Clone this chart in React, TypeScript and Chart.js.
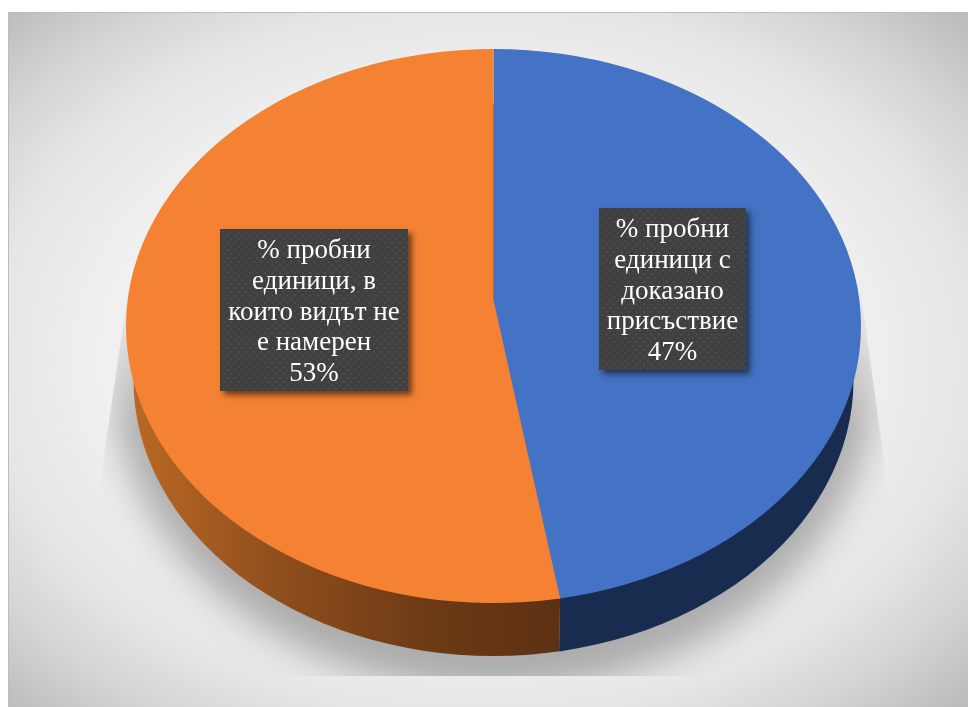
import React, { useEffect, useRef } from "react";
import { Chart, registerables } from "chart.js";

Chart.register(...registerables);

const categories = ["% пробни единици с доказано присъствие", "% пробни единици, в които видът не е намерен"];
const values = [47.1, 52.9];
const sliceColors = ["#4472C4", "#F58233"];
const labelLinesBlue = ["% пробни", "единици с", "доказано", "присъствие"];
const labelLinesOrange = ["% пробни", "единици, в", "които видът не", "е намерен"];
const labelLines = [labelLinesBlue, labelLinesOrange];
const labelBoxes = [
  { l: 599, t: 208, r: 746, b: 370 },
  { l: 220, t: 229, r: 408, b: 391 },
];

const W = 968;
const H = 707;
const SX = 367.5 / 277;
const APEX_LIFT = 26;
const BASE_RX = 360;
const BASE_RY = 276;
const BASE_DROP = 54;

const plugin = {
  id: "pie3d",
  beforeDraw(chart: any) {
    const ctx = chart.ctx;
    ctx.save();
    ctx.save();
    ctx.beginPath();
    ctx.rect(8, 12, W - 8, H - 12);
    ctx.clip();
    ctx.translate(480, 360);
    ctx.scale(1, 695 / 960);
    const g = ctx.createRadialGradient(0, 0, 0, 0, 0, 680);
    g.addColorStop(0, "#f4f4f4");
    g.addColorStop(0.55, "#f0f0f0");
    g.addColorStop(0.72, "#e6e6e6");
    g.addColorStop(0.85, "#d5d5d5");
    g.addColorStop(1, "#bbbbbb");
    ctx.fillStyle = g;
    ctx.fillRect(-600, -600, 1200, 1200);
    ctx.restore();
    ctx.fillStyle = "#bcbcbc";
    ctx.fillRect(8, 12, W - 8, 1);
    ctx.fillRect(8, 12, 1, H - 12);
    ctx.restore();
  },
  beforeDatasetsDraw(chart: any) {
    const ctx = chart.ctx;
    const arcs = chart.getDatasetMeta(0).data;
    const cx = arcs[0].x;
    const cy = arcs[0].y;
    const ry = arcs[0].outerRadius;
    const rx = ry * SX;
    const e = arcs[0].endAngle;
    const seamX = cx + rx * Math.cos(e);
    const seamY = cy + ry * Math.sin(e);

    // ground shadow: a blurred ellipse, cut to the projected floor, fading upward
    const off = document.createElement("canvas");
    off.width = W;
    off.height = H;
    const o = off.getContext("2d") as CanvasRenderingContext2D;
    o.filter = "blur(18px)";
    o.fillStyle = "rgba(0,0,0,0.28)";
    o.beginPath();
    o.ellipse(cx, cy + 49, rx + 14, ry + 38, 0, 0, Math.PI * 2);
    o.fill();
    o.filter = "none";
    o.globalCompositeOperation = "destination-in";
    const fade = o.createLinearGradient(0, 280, 0, 430);
    fade.addColorStop(0, "rgba(0,0,0,0)");
    fade.addColorStop(1, "rgba(0,0,0,1)");
    o.fillStyle = fade;
    o.fillRect(0, 0, W, H);
    ctx.save();
    ctx.beginPath();
    ctx.moveTo(134, 250);
    ctx.lineTo(855, 250);
    ctx.lineTo(888, 490);
    ctx.lineTo(888, 676);
    ctx.lineTo(99, 676);
    ctx.lineTo(99, 490);
    ctx.closePath();
    ctx.clip();
    ctx.drawImage(off, 0, 0);
    ctx.restore();

    // side wall: the base ellipse, split at the slice seam
    arcs.forEach((arc: any, i: number) => {
      ctx.save();
      ctx.beginPath();
      const edge = i === 0 ? W : 0;
      ctx.moveTo(seamX, 0);
      ctx.lineTo(seamX, seamY);
      ctx.lineTo(seamX - 2, H);
      ctx.lineTo(edge, H);
      ctx.lineTo(edge, 0);
      ctx.closePath();
      ctx.clip();
      ctx.beginPath();
      ctx.ellipse(cx, cy + BASE_DROP, BASE_RX, BASE_RY, 0, 0, Math.PI * 2);
      if (i === 0) {
        ctx.fillStyle = "#182C50";
      } else {
        const g = ctx.createLinearGradient(cx - rx, 0, cx + 70, 0);
        g.addColorStop(0, "#BC6A24");
        g.addColorStop(0.35, "#8F4E1D");
        g.addColorStop(0.7, "#6C3A15");
        g.addColorStop(1, "#5C3113");
        ctx.fillStyle = g;
      }
      ctx.fill();
      ctx.restore();
    });

    ctx.save();
    ctx.translate(cx, cy);
    ctx.scale(SX, 1);
    ctx.translate(-cx, -cy);
  },
  afterDatasetsDraw(chart: any) {
    const ctx = chart.ctx;
    ctx.restore();
    const arcs = chart.getDatasetMeta(0).data;
    const cx = arcs[0].x;
    const cy = arcs[0].y;
    const ry = arcs[0].outerRadius;
    const rx = ry * SX;
    const e = arcs[0].endAngle;
    const ex = cx + rx * Math.cos(e);
    const ey = cy + ry * Math.sin(e);

    // perspective: the slices meet above the ellipse centre
    ctx.save();
    ctx.fillStyle = sliceColors[1];
    ctx.beginPath();
    ctx.moveTo(cx, cy - APEX_LIFT);
    ctx.lineTo(cx - 5, cy - APEX_LIFT);
    ctx.lineTo(cx - 5, cy);
    ctx.lineTo(ex - 3, ey - 1);
    ctx.lineTo(ex, ey);
    ctx.closePath();
    ctx.fill();
    ctx.restore();

    // data labels
    labelBoxes.forEach((box, i) => {
      const w = box.r - box.l;
      const h = box.b - box.t;
      ctx.save();
      ctx.shadowColor = "rgba(0,0,0,0.55)";
      ctx.shadowBlur = 6;
      ctx.shadowOffsetX = 4;
      ctx.shadowOffsetY = 4;
      ctx.fillStyle = "#404040";
      ctx.fillRect(box.l, box.t, w, h);
      ctx.restore();

      ctx.save();
      ctx.beginPath();
      ctx.rect(box.l, box.t, w, h);
      ctx.clip();
      ctx.fillStyle = "#535353";
      for (let row = 0; box.t + row * 3.75 < box.b; row++) {
        for (let col = 0; box.l + col * 7.5 < box.r; col++) {
          ctx.fillRect(box.l + 3 + col * 7.5 + (row % 2 ? 3.75 : 0), box.t + 2 + row * 3.75, 1.5, 1.5);
        }
      }
      ctx.restore();

      ctx.save();
      ctx.fillStyle = "#ffffff";
      ctx.font = '27px "Liberation Serif"';
      ctx.textAlign = "center";
      ctx.textBaseline = "alphabetic";
      const lines = [...labelLines[i], `${Math.round(values[i])}%`];
      const mid = (box.l + box.r) / 2;
      lines.forEach((line, k) => {
        ctx.fillText(line, mid, box.t + 29 + k * 30.75);
      });
      ctx.restore();
    });
  },
};

export default function App() {
  const ref = useRef<HTMLCanvasElement | null>(null);
  useEffect(() => {
    const chart = new Chart(ref.current as HTMLCanvasElement, {
      type: "pie",
      data: {
        labels: categories,
        datasets: [
          {
            data: values,
            backgroundColor: sliceColors,
            borderWidth: 0,
            clip: false,
          } as any,
        ],
      },
      options: {
        responsive: false,
        animation: false,
        devicePixelRatio: 1,
        layout: { padding: { left: 216.5, right: 197.5, top: 49, bottom: 104 } },
        plugins: { legend: { display: false }, tooltip: { enabled: false } },
      },
      plugins: [plugin as any],
    });
    return () => chart.destroy();
  }, []);
  return (
    <canvas
      ref={ref}
      width={W}
      height={H}
      style={{ position: "fixed", left: 0, top: 0, width: W, height: H, display: "block" }}
    />
  );
}
